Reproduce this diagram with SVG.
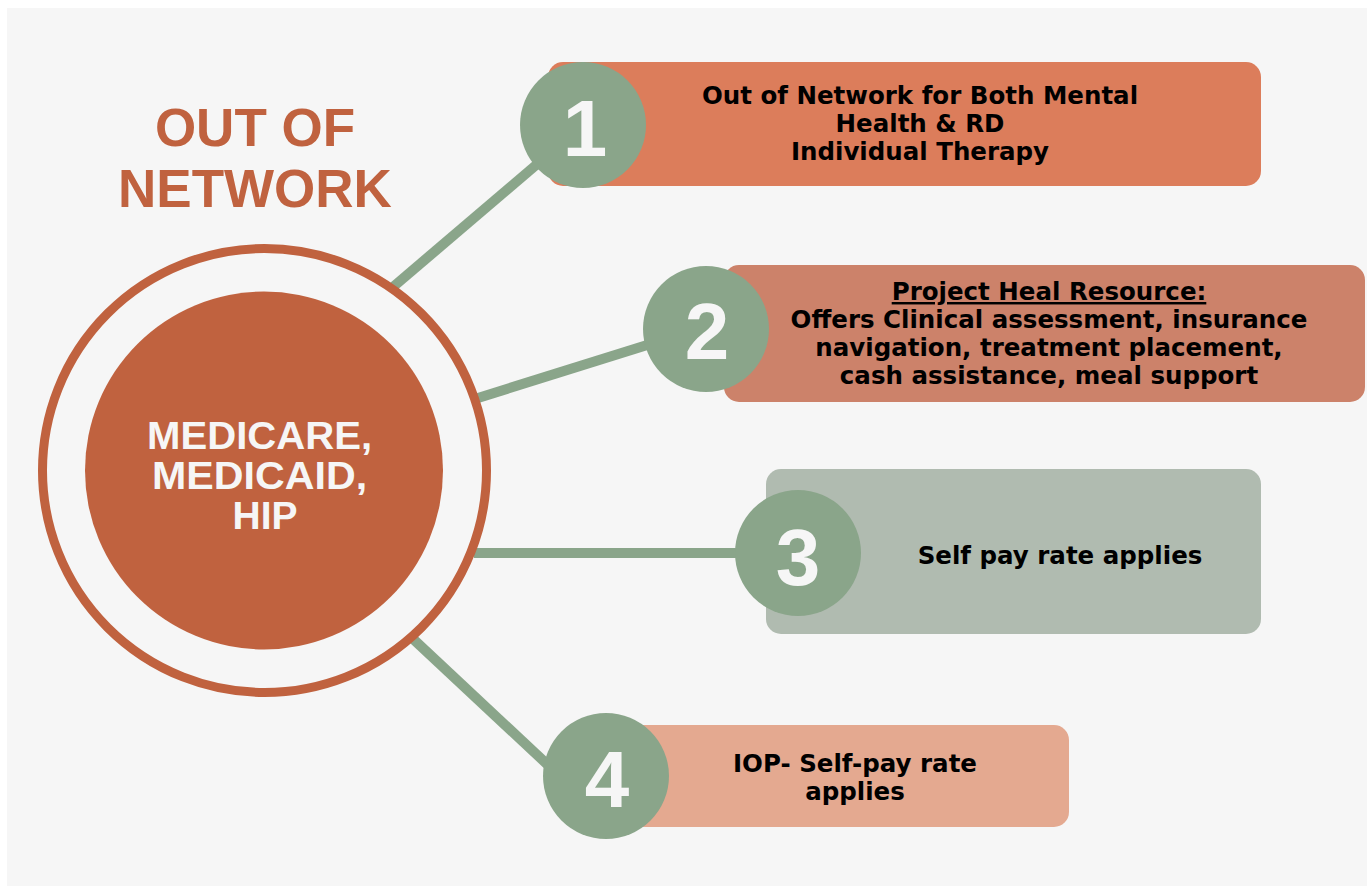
<svg xmlns="http://www.w3.org/2000/svg" width="1367" height="886" viewBox="0 0 1367 886">
<style>
.num{font-family:"Liberation Sans",Arial,sans-serif;font-weight:bold;font-size:80px;fill:#f6f6f6;text-anchor:middle}
.lbl{font-family:"DejaVu Sans","Liberation Sans",sans-serif;font-weight:bold;font-size:24.5px;fill:#000;text-anchor:middle}
.dot{fill:#8aa58a}
.conn{stroke:#8aa58a;stroke-width:10;fill:none}
</style>
<rect x="0" y="0" width="1367" height="886" fill="#ffffff"/>
<rect x="7" y="8" width="1360" height="878" fill="#f6f6f6"/>
<g id="connectors">
<line class="conn" x1="393" y1="287" x2="583" y2="125"/>
<line class="conn" x1="478" y1="398" x2="660" y2="341"/>
<line class="conn" x1="474" y1="553" x2="740" y2="553"/>
<line class="conn" x1="411" y1="637" x2="580" y2="795"/>
</g>
<g id="title">
<text x="255" y="146" font-family="Liberation Sans,Arial,sans-serif" font-weight="bold" font-size="53" fill="#c0623f" text-anchor="middle">OUT OF</text>
<text x="255" y="207" font-family="Liberation Sans,Arial,sans-serif" font-weight="bold" font-size="53" fill="#c0623f" text-anchor="middle">NETWORK</text>
</g>
<g id="center">
<circle cx="264.5" cy="470.5" r="222" fill="none" stroke="#c0623f" stroke-width="9"/>
<circle cx="264" cy="470.5" r="179" fill="#c0623f"/>
<text font-family="Liberation Sans,Arial,sans-serif" font-weight="bold" font-size="39" fill="#f6f6f6" text-anchor="middle">
<tspan x="265" y="449" textLength="225" lengthAdjust="spacingAndGlyphs">MEDICARE,</tspan>
<tspan x="265" y="489" textLength="215" lengthAdjust="spacingAndGlyphs">MEDICAID,</tspan>
<tspan x="265" y="529">HIP</tspan>
</text>
</g>
<g id="node1">
<rect x="548" y="62" width="713" height="124" rx="15" fill="#dc7d5b"/>
<circle class="dot" cx="583" cy="125" r="63"/>
<text class="num" x="585" y="156">1</text>
<text class="lbl"><tspan x="920" y="104">Out of Network for Both Mental</tspan><tspan x="920" y="132">Health &amp; RD</tspan><tspan x="920" y="160">Individual Therapy</tspan></text>
</g>
<g id="node2">
<rect x="724" y="265" width="641" height="137" rx="15" fill="#cc826a"/>
<circle class="dot" cx="706" cy="329" r="63"/>
<text class="num" x="707" y="359">2</text>
<text class="lbl"><tspan x="1049" y="300" text-decoration="underline">Project Heal Resource:</tspan><tspan x="1049" y="328">Offers Clinical assessment, insurance</tspan><tspan x="1049" y="356">navigation, treatment placement,</tspan><tspan x="1049" y="384">cash assistance, meal support</tspan></text>
</g>
<g id="node3">
<rect x="766" y="469" width="495" height="165" rx="15" fill="#b0bbb0"/>
<circle class="dot" cx="798" cy="553" r="63"/>
<text class="num" x="798" y="585">3</text>
<text class="lbl" x="1060" y="564">Self pay rate applies</text>
</g>
<g id="node4">
<rect x="600" y="725" width="469" height="102" rx="15" fill="#e4a990"/>
<circle class="dot" cx="606" cy="776" r="63"/>
<text class="num" x="607" y="807">4</text>
<text class="lbl"><tspan x="855" y="772">IOP- Self-pay rate</tspan><tspan x="855" y="800">applies</tspan></text>
</g>
</svg>
